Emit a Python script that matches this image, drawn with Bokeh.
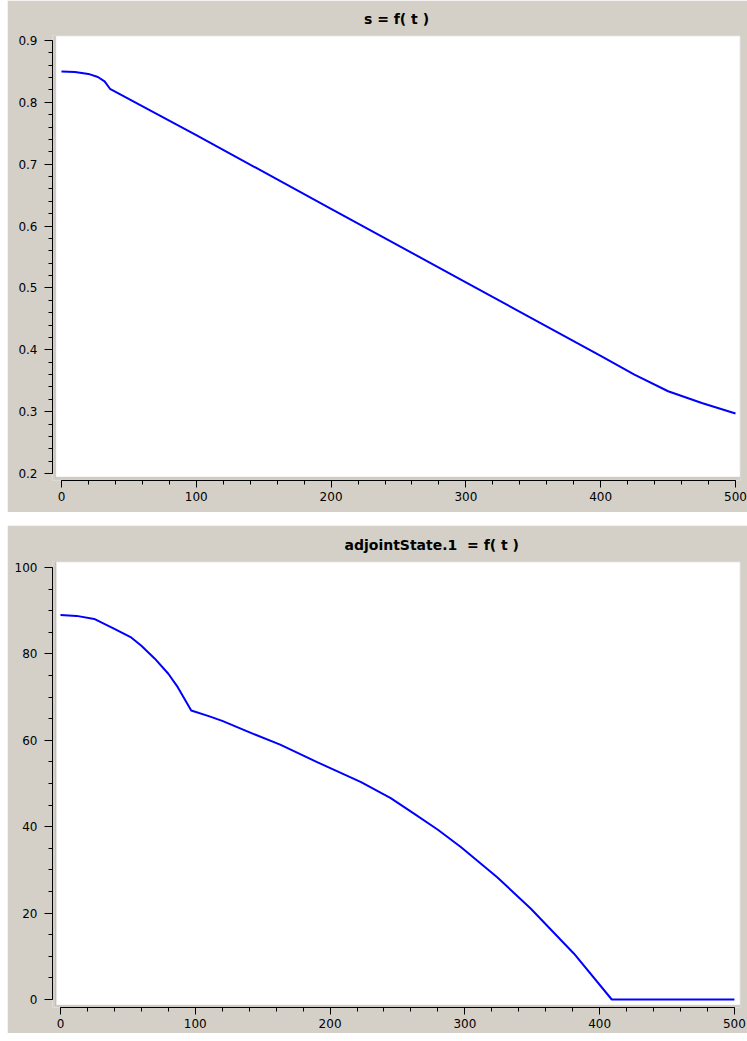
from bokeh.plotting import figure
from bokeh.layouts import column
from bokeh.models import FixedTicker, Range1d, BoxAnnotation
from bokeh.embed import file_html
from bokeh.resources import INLINE

# ---- data: s = f(t) ----
s_t = [0, 10, 20, 27, 32, 36, 100, 200, 300, 400, 425, 450, 475, 500]
s_val = [0.850, 0.849, 0.846, 0.841, 0.834, 0.822, 0.747, 0.628, 0.509,
         0.390, 0.360, 0.333, 0.314, 0.297]

# ---- data: adjointState.1 = f(t) ----
a_t = [0, 12, 25, 40, 52, 60, 70, 80, 87, 97, 110, 120, 143, 163, 190, 223,
       245, 262, 280, 297, 324, 349, 381, 409, 500]
a_val = [89.0, 88.8, 88.1, 85.8, 83.9, 81.9, 78.9, 75.4, 72.3, 66.9, 65.6,
         64.5, 61.5, 59.0, 55.0, 50.3, 46.6, 43.1, 39.3, 35.3, 28.3, 21.0,
         10.6, 0.0, 0.0]

# ---- ticks ----
x_ticks = [0, 100, 200, 300, 400, 500]
x_minor = [20 * i for i in range(26)]
s_ticks = [0.2, 0.3, 0.4, 0.5, 0.6, 0.7, 0.8, 0.9]
s_minor = [round(0.2 + 0.02 * i, 2) for i in range(36)]
a_ticks = [0, 20, 40, 60, 80, 100]
a_minor = [5 * i for i in range(21)]

GREY = "#d4d0c8"
FONT = "DejaVu Sans"


def make_panel(title, xr, yr, h, borders, xt, xm, yt, ym, ybounds, box,
               title_align="center", title_offset=0):
    top, bottom, left, right = borders
    p = figure(width=740, height=h, output_backend="svg", toolbar_location=None,
               x_range=Range1d(*xr), y_range=Range1d(*yr),
               min_border_top=top, min_border_bottom=bottom,
               min_border_left=left, min_border_right=right)
    p.border_fill_color = GREY
    p.background_fill_color = GREY
    p.outline_line_color = None
    p.grid.visible = False
    # white plotting area, detached from the axes by a small gap
    p.add_layout(BoxAnnotation(left=box[0], bottom=box[1], fill_color="white",
                               fill_alpha=1.0, line_color="#8a8a8a",
                               line_width=1.5, level="underlay"))
    p.title.text = title
    p.title.align = title_align
    p.title.offset = title_offset
    p.title.text_font = FONT
    p.title.text_font_style = "bold"
    p.title.text_font_size = "14px"
    p.title.text_color = "black"
    p.title.standoff = 17
    for ax, ticks, minor, bounds in ((p.xaxis[0], xt, xm, (0, 500)),
                                     (p.yaxis[0], yt, ym, ybounds)):
        ax.ticker = FixedTicker(ticks=ticks, minor_ticks=minor)
        ax.bounds = bounds
        ax.axis_line_color = "black"
        ax.major_tick_line_color = "black"
        ax.minor_tick_line_color = "black"
        ax.major_tick_in = 0
        ax.minor_tick_in = 0
        ax.major_label_text_font = FONT
        ax.major_label_text_font_size = "12px"
        ax.major_label_text_color = "black"
    p.xaxis.major_tick_out = 7
    p.xaxis.minor_tick_out = 4
    p.xaxis.major_label_standoff = 4
    p.yaxis.major_tick_out = 8
    p.yaxis.minor_tick_out = 4
    p.yaxis.major_label_standoff = 7
    return p


p1 = make_panel("s = f( t )", (-6.64, 503.7), (0.1887, 0.9081), 512,
                (35, 32, 41, 7), x_ticks, x_minor, s_ticks, s_minor, (0.2, 0.9),
                (-4.42, 0.1936))
p1.line(s_t, s_val, line_color="#0000ff", line_width=2)

p2 = make_panel("adjointState.1\u00a0\u00a0= f( t )", (-5.93, 504.5), (-1.85, 101.39),
                508, (36, 26, 45, 7), x_ticks, x_minor, a_ticks, a_minor, (0, 100),
                (-3.34, -1.39), title_align="left", title_offset=292)
p2.line(a_t, a_val, line_color="#0000ff", line_width=2)

layout = column(p1, p2, spacing=13, styles={"margin-left": "7px"})
open("out.html", "w").write(file_html(layout, INLINE))
